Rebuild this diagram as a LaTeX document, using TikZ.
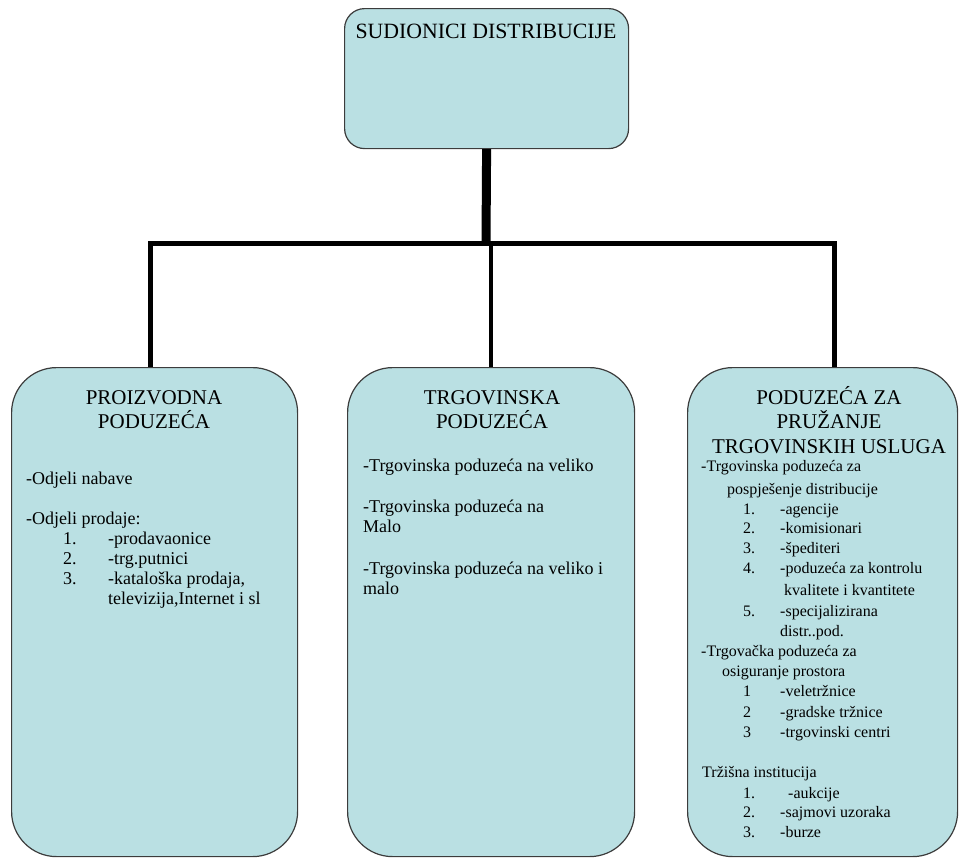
\documentclass[tikz,border=0pt]{standalone}
\usepackage{fontspec}
\setmainfont{Liberation Serif}
\usetikzlibrary{positioning}
\definecolor{boxfill}{RGB}{186,224,227}
\definecolor{boxline}{RGB}{60,60,60}

\begin{document}
\begin{tikzpicture}[
        x=1pt, y=-1pt,
        box/.style={draw=boxline, fill=boxfill, line width=1.2pt, rounded corners=45pt, anchor=north west, inner sep=0pt},
        head/.style={font=\fontsize{21}{24}\selectfont, anchor=base, inner sep=0pt},
        body/.style={font=\fontsize{18}{20}\selectfont, anchor=base west, inner sep=0pt},
        note/.style={font=\fontsize{16}{20}\selectfont, anchor=base west, inner sep=0pt},
        link/.style={line width=5pt}]

    % frame
    \useasboundingbox (0,0) rectangle (963,857);

    % NODES
    % top box
    \node[box, rounded corners=20pt, minimum width=284pt, minimum height=140pt] (root) at (344,8) {};
    \node[head, font=\fontsize{21.8}{24}\selectfont] (root_cap) at (486,38) {SUDIONICI DISTRIBUCIJE};

    % boxes
    \node[box, minimum width=286pt, minimum height=489pt] (prod) at (11,367) {};
    \node[box, minimum width=287pt, minimum height=489pt] (trg) at (347,367) {};
    \node[box, minimum width=270pt, minimum height=489pt] (usl) at (687,367) {};

    % proizvodna
    \node[head] (prod_h1) at (154,404) {PROIZVODNA};
    \node[head] (prod_h2) at (154,428) {PODUZEĆA};
    \node[body] (prod_a) at (26,484) {-Odjeli nabave};
    \node[body] (prod_b) at (26,524) {-Odjeli prodaje:};
    \foreach \y/\n/\t [count=\i] in {544/1./-prodavaonice, 564/2./-trg.putnici, 584/3./{-kataloška prodaja,}}{
        \node[body] (prod_n\i) at (63,\y) {\n};
        \node[body] (prod_t\i) at (108,\y) {\t};
    }
    \node[body] (prod_t4) at (108,604) {televizija,Internet i sl};

    % trgovinska
    \node[head] (trg_h1) at (492,404) {TRGOVINSKA};
    \node[head] (trg_h2) at (492,428) {PODUZEĆA};
    \node[body] (trg_a) at (363,471) {-Trgovinska poduzeća na veliko};
    \node[body] (trg_b) at (363,512) {-Trgovinska poduzeća na};
    \node[body] (trg_b2) at (363,532) {Malo};
    \node[body] (trg_c) at (363,574) {-Trgovinska poduzeća na veliko i};
    \node[body] (trg_c2) at (363,594) {malo};

    % usluge
    \node[head] (usl_h1) at (829,404) {PODUZEĆA ZA};
    \node[head] (usl_h2) at (829,428) {PRUŽANJE};
    \node[head] (usl_h3) at (829,453) {TRGOVINSKIH USLUGA};
    \node[note] (usl_a) at (701,471) {-Trgovinska poduzeća za};
    \node[note] (usl_a2) at (727,494) {pospješenje distribucije};
    \foreach \y/\n/\t [count=\i] in {514/1./-agencije, 533/2./-komisionari, 553/3./-špediteri, 573/4./-poduzeća za kontrolu, 616/5./-specijalizirana}{
        \node[note] (usl_n\i) at (743,\y) {\n};
        \node[note] (usl_t\i) at (780,\y) {\t};
    }
    \node[note] (usl_t4b) at (784,595) {kvalitete i kvantitete};
    \node[note] (usl_t5b) at (780,636) {distr..pod.};
    \node[note] (usl_b) at (701,656) {-Trgovačka poduzeća za};
    \node[note] (usl_b2) at (722,676) {osiguranje prostora};
    \foreach \y/\n/\t [count=\i] in {696/1/-veletržnice, 717/2/-gradske tržnice, 737/3/-trgovinski centri}{
        \node[note] (usl_m\i) at (743,\y) {\n};
        \node[note] (usl_s\i) at (780,\y) {\t};
    }
    \node[note] (usl_c) at (702,777) {Tržišna institucija};
    \foreach \y/\n/\t/\x [count=\i] in {798/1./-aukcije/788, 817/2./-sajmovi uzoraka/780, 837/3./-burze/780}{
        \node[note] (usl_k\i) at (743,\y) {\n};
        \node[note] (usl_r\i) at (\x,\y) {\t};
    }

    % LINKS
    \coordinate (bus) at (486,243);
    \draw[line width=9pt] (root.south) -- (bus);
    \draw[link] ([xshift=-4pt]prod.north) |- ([xshift=12pt]usl.north |- bus) -- ([xshift=12pt]usl.north);
    \draw[line width=4pt] (trg.north |- bus) -- (trg.north);
\end{tikzpicture}
\end{document}
